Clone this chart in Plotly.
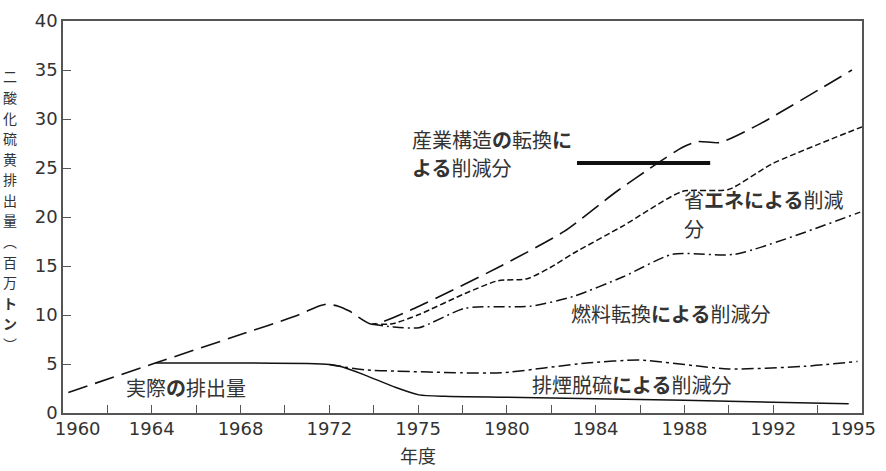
import numpy as np
import plotly.graph_objects as go

# ---------------- data ----------------
TICK_YEARS = [1960, 1964, 1968, 1972, 1975, 1980, 1984, 1988, 1992, 1995]
TICK_LABELS = [str(y) for y in TICK_YEARS]
Y_TICKS = [0, 5, 10, 15, 20, 25, 30, 35, 40]

# upper bound: reduction by change of industrial structure (long dash)
struct_years = [1960.24, 1964.16, 1968.0, 1970.6, 1971.4, 1971.88, 1972.3, 1972.68, 1973.44,
                1975.05, 1979.5, 1982.56, 1984.94, 1986.86, 1987.9, 1988.6, 1989.6, 1991.32, 1994.66]
struct_vals = [2.1, 5.1, 8.0, 10.0, 10.8, 11.1, 10.9, 10.4, 9.06,
               10.9, 14.85, 18.5, 22.6, 25.6, 27.1, 27.7, 27.6, 29.4, 35.0]

# reduction by energy saving (short dash)
energy_years = [1973.44, 1974.13, 1975.05, 1977.65, 1979.5, 1980.92, 1981.96, 1983.0,
                1985.24, 1987.9, 1989.98, 1991.93, 1995.0]
energy_vals = [9.06, 9.1, 10.05, 12.2, 13.5, 13.7, 14.85, 16.3,
               19.1, 22.6, 22.8, 25.4, 29.2]

# reduction by fuel conversion (dash-dot)
fuel_years = [1973.44, 1974.1, 1975.05, 1977.65, 1981.08, 1983.0, 1985.24, 1987.46, 1990.28, 1994.94]
fuel_vals = [9.06, 8.8, 8.7, 10.7, 10.9, 11.9, 13.9, 16.2, 16.2, 20.5]

# reduction by flue-gas desulfurization (dash-dot)
desulf_years = [1972.0, 1972.36, 1973.2, 1974.25, 1977.45, 1979.68, 1983.6, 1985.98,
                1989.98, 1993.05, 1994.85]
desulf_vals = [4.95, 4.76, 4.4, 4.27, 4.1, 4.1, 5.1, 5.4, 4.5, 4.76, 5.26]

# actual emissions (solid)
actual_years = [1964.16, 1968.0, 1971.0, 1972.0, 1972.36, 1973.14, 1974.25, 1975.05,
                1976.5, 1980.0, 1984.0, 1988.0, 1992.0, 1994.55]
actual_vals = [5.1, 5.1, 5.05, 4.95, 4.76, 3.94, 2.6, 1.85,
               1.7, 1.6, 1.45, 1.3, 1.1, 0.95]

# pointer bar for the structural-change label
pointer_years = [1983.16, 1989.16]
pointer_vals = [25.5, 25.5]

# ---------------- scales ----------------
TICK_POS = np.arange(0, 2 * len(TICK_YEARS), 2, dtype=float)   # evenly spaced labels


def xpos(years):
    return np.interp(years, TICK_YEARS, TICK_POS)


W, H = 886, 471
L, R, T, B = 63, 14, 10, 58
PW, PH = W - L - R, H - T - B


def px_x(px):
    return (px - L) / PW


def px_y(py):
    return (H - B - py) / PH


INK = "#111111"
TXT = "#333333"
CJK = "Noto Sans CJK JP"
LAT = "DejaVu Sans"

fig = go.Figure()


def add_line(years, vals, dash, width=1.5):
    fig.add_trace(go.Scatter(
        x=xpos(years), y=vals, mode="lines",
        line=dict(color=INK, width=width, dash=dash, shape="spline", smoothing=0.6),
        hoverinfo="skip", showlegend=False))


add_line(struct_years, struct_vals, "20px,8px", 1.6)
add_line(energy_years, energy_vals, "6px,3px")
add_line(fuel_years, fuel_vals, "11px,4px,2px,4px")
add_line(desulf_years, desulf_vals, "12px,4px,3px,4px")
add_line(actual_years, actual_vals, "solid")

fig.add_trace(go.Scatter(
    x=xpos(pointer_years), y=pointer_vals, mode="lines",
    line=dict(color=INK, width=4), hoverinfo="skip", showlegend=False))

# invisible trace on overlay axis for year labels
label_pos = TICK_POS.copy()
label_pos[0] += 0.33
label_pos[-1] -= 0.2
fig.add_trace(go.Scatter(x=[0, 18], y=[None, None], xaxis="x2", mode="lines",
                         showlegend=False, hoverinfo="skip"))

axis_common = dict(showline=True, linecolor="#555555", linewidth=1.5, mirror=True,
                   showgrid=False, zeroline=False, ticks="inside", ticklen=8,
                   tickcolor="#555555", tickwidth=1.2)

fig.update_layout(
    width=W, height=H,
    margin=dict(l=L, r=R, t=T, b=B, pad=0),
    paper_bgcolor="white", plot_bgcolor="white",
    showlegend=False,
    xaxis=dict(range=[0, 18], tickmode="array", tickvals=list(range(19)),
               ticktext=[""] * 19, **axis_common),
    xaxis2=dict(range=[0, 18], overlaying="x", anchor="y", side="bottom",
                tickmode="array", tickvals=list(label_pos), ticktext=TICK_LABELS,
                showline=False, showgrid=False, zeroline=False, ticks="",
                tickfont=dict(family=LAT, size=18, color=TXT), ticklabelstandoff=3),
    yaxis=dict(range=[0, 40], tickmode="array", tickvals=Y_TICKS,
               ticktext=[str(v) for v in Y_TICKS],
               tickfont=dict(family=LAT, size=18, color=TXT), **axis_common),
)

annotations = []


def note(text, px, py, size=20, xanchor="left", align="left"):
    annotations.append(dict(
        text=text, x=px_x(px), y=px_y(py), xref="paper", yref="paper",
        xanchor=xanchor, yanchor="middle", align=align, showarrow=False,
        borderpad=0, font=dict(family=CJK, size=size, color=TXT)))


note("産業構造<b>の</b>転換<b>に</b>", 415, 132)
note("<b>よる</b>削減分", 415, 161)
note("省<b>エネによる</b>削減", 691, 194)
note("分", 691, 223)
note("燃料転換<b>による</b>削減分", 576, 311)
note("実際<b>の</b>排出量", 126, 387)
note("排煙脱硫<b>による</b>削減分", 537, 384)
note("年度", 422, 456, size=18, xanchor="center", align="center")

# vertical y-axis title, one glyph per line
ytitle = ["二", "酸", "化", "硫", "黄", "排", "出", "量", "︵", "百", "万",
          "<b>ト</b>", "<b>ン</b>", "︶"]
top_py, bottom_py = 67, 342
pitch = (bottom_py - top_py) / (len(ytitle) - 1)
for i, ch in enumerate(ytitle):
    note(ch, 9, top_py + i * pitch, size=14, xanchor="center", align="center")

fig.update_layout(annotations=annotations)
fig.write_html("out.html")
